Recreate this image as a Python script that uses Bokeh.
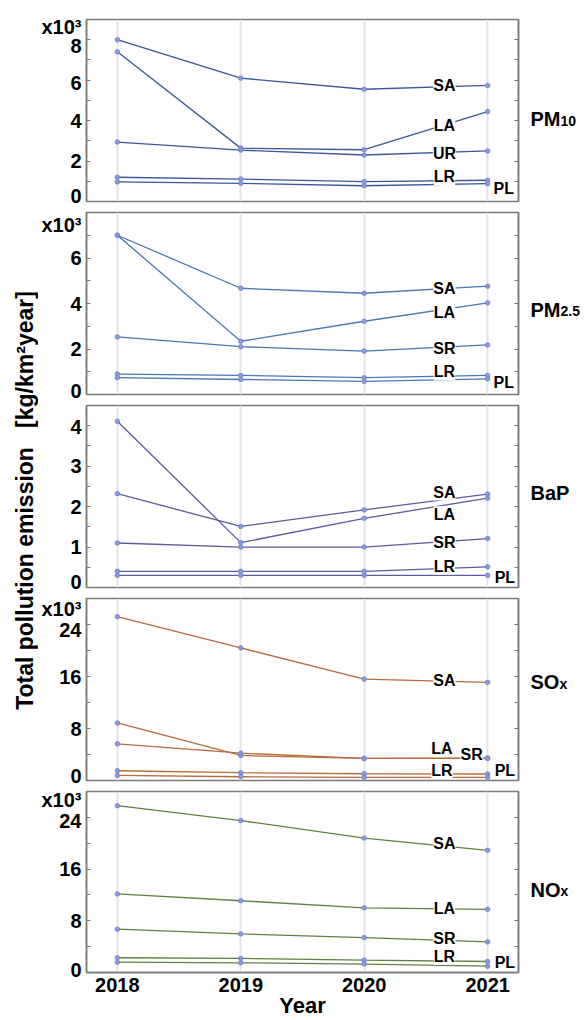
import math
from bokeh.plotting import figure
from bokeh.models import (Range1d, FixedTicker, LinearAxis, ColumnDataSource, LabelSet, Label, Grid)
from bokeh.layouts import column, row
from bokeh.embed import file_html
from bokeh.resources import INLINE
from bokeh.core.properties import value

# ---------------- data ----------------
years = [2018, 2019, 2020, 2021]

# PM10 (x10^3 kg/km2 year)
pm10_SA = [8.0, 6.1, 5.55, 5.74]
pm10_LA = [7.4, 2.64, 2.56, 4.45]
pm10_UR = [2.94, 2.54, 2.3, 2.5]
pm10_LR = [1.2, 1.11, 0.98, 1.05]
pm10_PL = [0.97, 0.9, 0.78, 0.88]

# PM2.5 (x10^3)
pm25_SA = [7.0, 4.67, 4.45, 4.76]
pm25_LA = [7.0, 2.34, 3.22, 4.03]
pm25_SR = [2.53, 2.1, 1.91, 2.18]
pm25_LR = [0.9, 0.84, 0.74, 0.84]
pm25_PL = [0.74, 0.66, 0.58, 0.69]

# BaP
bap_SA = [2.32, 1.51, 1.92, 2.31]
bap_LA = [4.11, 1.11, 1.71, 2.21]
bap_SR = [1.1, 1.0, 1.0, 1.21]
bap_LR = [0.4, 0.4, 0.4, 0.51]
bap_PL = [0.3, 0.3, 0.3, 0.3]

# SOx (x10^3)
sox_SA = [25.2, 20.4, 15.6, 15.1]
sox_LA = [8.85, 3.85, 3.4, 3.45]
sox_SR = [5.64, 4.2, 3.4, 3.4]
sox_LR = [1.5, 1.2, 1.04, 1.0]
sox_PL = [0.78, 0.58, 0.48, 0.48]

# NOx (x10^3)
nox_SA = [25.8, 23.5, 20.8, 18.9]
nox_LA = [12.15, 11.1, 10.0, 9.77]
nox_SR = [6.7, 5.97, 5.4, 4.73]
nox_LR = [2.28, 2.17, 1.9, 1.7]
nox_PL = [1.6, 1.5, 1.3, 0.98]

y_axis_title = "Total pollution emission\u00a0\u00a0 [kg/km\u00b2year]"
x_axis_title = "Year"
scale_text = "x10\u00b3"

# ---------------- layout / style ----------------
FONT = "Liberation Sans"
X0, X1 = 2017.75, 2021.25
FRAME_H = 182
LEFT_W = 38
PANEL_W = 490
NAME_W = 54
MB_LEFT = 46
MB_RIGHT = 10
FRAME_COL = "#7a7a7a"
MARKER_FILL = "#8c9ade"
MARKER_LINE = "#6b7cc6"

# tick label nudges in pixels (positive = downwards), scale marker offset below frame top
panels = [
    dict(main="PM", sub="10", main_w=30, ymax=9, ticks=[0, 2, 4, 6, 8], minor=[1, 2, 3, 4, 5, 6, 7, 8],
         nudge={0: -5, 6: 2.5, 8: 6.5}, x10=7, color="#3b5699", name_frac=0.51,
         series=[pm10_SA, pm10_LA, pm10_UR, pm10_LR, pm10_PL],
         lab=[("SA", 2020.65, 5.74), ("LA", 2020.65, 3.77), ("UR", 2020.65, 2.39),
              ("LR", 2020.65, 1.23), ("PL", 2021.13, 0.66)]),
    dict(main="PM", sub="2.5", main_w=30, ymax=8, ticks=[0, 2, 4, 6], minor=[1, 2, 3, 4, 5, 6, 7],
         nudge={0: -3.5}, x10=12, color="#4977b5", name_frac=0.495,
         series=[pm25_SA, pm25_LA, pm25_SR, pm25_LR, pm25_PL],
         lab=[("SA", 2020.65, 4.64), ("LA", 2020.65, 3.62), ("SR", 2020.65, 2.03),
              ("LR", 2020.65, 1.0), ("PL", 2021.13, 0.53)]),
    dict(main="BaP", sub="", main_w=40, ymax=4.5, ticks=[0, 1, 2, 3, 4],
         minor=[0.5, 1, 1.5, 2, 2.5, 3, 3.5, 4],
         nudge={0: -5.5, 4: 1.5}, x10=None, color="#5c5b9d", name_frac=0.44,
         series=[bap_SA, bap_LA, bap_SR, bap_LR, bap_PL],
         lab=[("SA", 2020.65, 2.36), ("LA", 2020.65, 1.8), ("SR", 2020.65, 1.11),
              ("LR", 2020.65, 0.53), ("PL", 2021.14, 0.25)]),
    dict(main="SO", sub="x", main_w=29, ymax=28, ticks=[0, 8, 16, 24], minor=[4, 8, 12, 16, 20, 24],
         nudge={0: -5, 24: 5.5}, x10=11, color="#b96b3b", name_frac=0.423,
         series=[sox_SA, sox_LA, sox_SR, sox_LR, sox_PL],
         lab=[("SA", 2020.65, 15.4), ("LA", 2020.63, 5.0), ("SR", 2020.87, 3.95),
              ("LR", 2020.63, 1.55), ("PL", 2021.14, 1.55)]),
    dict(main="NO", sub="x", main_w=30, ymax=28, ticks=[0, 8, 16, 24], minor=[4, 8, 12, 16, 20, 24],
         nudge={0: -2.5, 24: 4}, x10=9, color="#62803f", name_frac=0.5,
         series=[nox_SA, nox_LA, nox_SR, nox_LR, nox_PL],
         lab=[("SA", 2020.65, 19.9), ("LA", 2020.65, 9.9), ("SR", 2020.65, 5.24),
              ("LR", 2020.65, 2.48), ("PL", 2021.14, 1.54)]),
]

figs = []
frame_tops = []
page_y = 0
n = len(panels)
for i, cfg in enumerate(panels):
    last = (i == n - 1)
    top = 19 if i == 0 else 3
    bottom = 47 if last else 8
    h = top + FRAME_H + bottom
    frame_tops.append(page_y + top)
    page_y += h
    ymax = cfg["ymax"]
    upp = ymax / FRAME_H  # data units per pixel
    p = figure(width=PANEL_W, height=h, x_range=Range1d(X0, X1), y_range=Range1d(0, ymax),
               output_backend="svg", toolbar_location=None,
               min_border_left=MB_LEFT, min_border_right=MB_RIGHT,
               min_border_top=top, min_border_bottom=bottom,
               x_axis_location="below" if last else None)
    p.xgrid.visible = False
    p.ygrid.visible = False
    p.add_layout(Grid(dimension=0, ticker=FixedTicker(ticks=years),
                      grid_line_color="#e4e4e4", grid_line_width=2))
    p.outline_line_color = FRAME_COL
    p.outline_line_width = 1.5

    # left axis: labels (slightly nudged like the original) + inward minor ticks
    ya = p.yaxis[0]
    major = []
    overrides = {}
    for t in cfg["ticks"]:
        pos = round(t - cfg["nudge"].get(t, 0) * upp, 4)
        major.append(pos)
        overrides[pos] = str(t)
    if cfg["x10"] is not None:
        xt = round(ymax - cfg["x10"] * upp, 4)
        major.append(xt)
        overrides[xt] = scale_text
    ya.ticker = FixedTicker(ticks=major, minor_ticks=cfg["minor"])
    ya.major_label_overrides = overrides
    ya.major_tick_in = 0
    ya.major_tick_out = 0
    ya.minor_tick_in = 4
    ya.minor_tick_out = 0
    ya.minor_tick_line_color = FRAME_COL
    ya.axis_line_color = FRAME_COL
    ya.axis_line_width = 1.5
    ya.major_label_text_font = FONT
    ya.major_label_text_font_style = "bold"
    ya.major_label_text_font_size = "20px"
    ya.major_label_text_color = "black"
    ya.major_label_standoff = 5

    # right axis (ticks only)
    ra = LinearAxis(ticker=FixedTicker(ticks=cfg["ticks"], minor_ticks=cfg["minor"]),
                    major_tick_in=4, major_tick_out=0, minor_tick_in=4, minor_tick_out=0,
                    major_tick_line_color=FRAME_COL, minor_tick_line_color=FRAME_COL,
                    axis_line_color=FRAME_COL, axis_line_width=1.5,
                    major_label_text_alpha=0, major_label_text_font_size="0px",
                    major_label_standoff=0)
    p.add_layout(ra, "right")

    if last:
        xa = p.xaxis[0]
        xa.ticker = FixedTicker(ticks=years, minor_ticks=[])
        xa.major_tick_in = 0
        xa.major_tick_out = 0
        xa.minor_tick_in = 0
        xa.minor_tick_out = 0
        xa.axis_line_color = FRAME_COL
        xa.axis_line_width = 1.5
        xa.major_label_text_font = FONT
        xa.major_label_text_font_style = "bold"
        xa.major_label_text_font_size = "20px"
        xa.major_label_text_color = "black"
        xa.major_label_standoff = 5
        xa.axis_label = x_axis_title
        xa.axis_label_text_font = FONT
        xa.axis_label_text_font_style = "bold"
        xa.axis_label_text_font_size = "22px"
        xa.axis_label_text_color = "black"
        xa.axis_label_standoff = -2

    for vals in cfg["series"]:
        p.line(years, vals, line_color=cfg["color"], line_width=1.3)
    for vals in cfg["series"]:
        p.scatter(years, vals, size=4.5, fill_color=MARKER_FILL, line_color=MARKER_LINE, line_width=0.8)

    src = ColumnDataSource(dict(x=[l[1] for l in cfg["lab"]], y=[l[2] for l in cfg["lab"]],
                                t=[l[0] for l in cfg["lab"]]))
    p.add_layout(LabelSet(source=src, x="x", y="y", text="t", text_align="center",
                          text_baseline="middle", text_font=value(FONT), text_font_style="bold",
                          text_font_size=value("16px"), text_color="black",
                          background_fill_color="white"))
    figs.append(p)

total_h = page_y

# left figure: vertical axis title (coordinates = page pixels)
lab = figure(width=LEFT_W, height=total_h, x_range=Range1d(0, LEFT_W),
             y_range=Range1d(total_h, 0),
             output_backend="svg", toolbar_location=None, x_axis_location=None, y_axis_location=None,
             min_border_left=0, min_border_right=0, min_border_top=0, min_border_bottom=0)
lab.xgrid.visible = False
lab.ygrid.visible = False
lab.outline_line_color = None
stack_mid = (frame_tops[0] + frame_tops[-1] + FRAME_H) / 2
lab.add_layout(Label(x=24, y=stack_mid + 4, text=y_axis_title, angle=math.pi / 2, text_align="center",
                     text_baseline="middle", text_font=FONT, text_font_style="bold",
                     text_font_size="23px", text_color="black"))

# right figure: panel names (coordinates = page pixels)
nx0 = LEFT_W + PANEL_W
names = figure(width=NAME_W, height=total_h, x_range=Range1d(nx0, nx0 + NAME_W),
               y_range=Range1d(total_h, 0),
               output_backend="svg", toolbar_location=None, x_axis_location=None, y_axis_location=None,
               min_border_left=0, min_border_right=0, min_border_top=0, min_border_bottom=0)
names.xgrid.visible = False
names.ygrid.visible = False
names.outline_line_color = None
for cfg, ft in zip(panels, frame_tops):
    cy = ft + cfg["name_frac"] * FRAME_H
    names.add_layout(Label(x=nx0 + 2, y=cy + 7, text=cfg["main"], text_font=FONT, text_font_style="bold",
                           text_font_size="20px", text_align="left", text_baseline="alphabetic",
                           text_color="black"))
    if cfg["sub"]:
        names.add_layout(Label(x=nx0 + 2 + cfg["main_w"], y=cy + 8.5, text=cfg["sub"], text_font=FONT,
                               text_font_style="bold", text_font_size="14px", text_align="left",
                               text_baseline="alphabetic", text_color="black"))

layout = row(lab, column(*figs), names)
open("out.html", "w").write(file_html(layout, INLINE))
